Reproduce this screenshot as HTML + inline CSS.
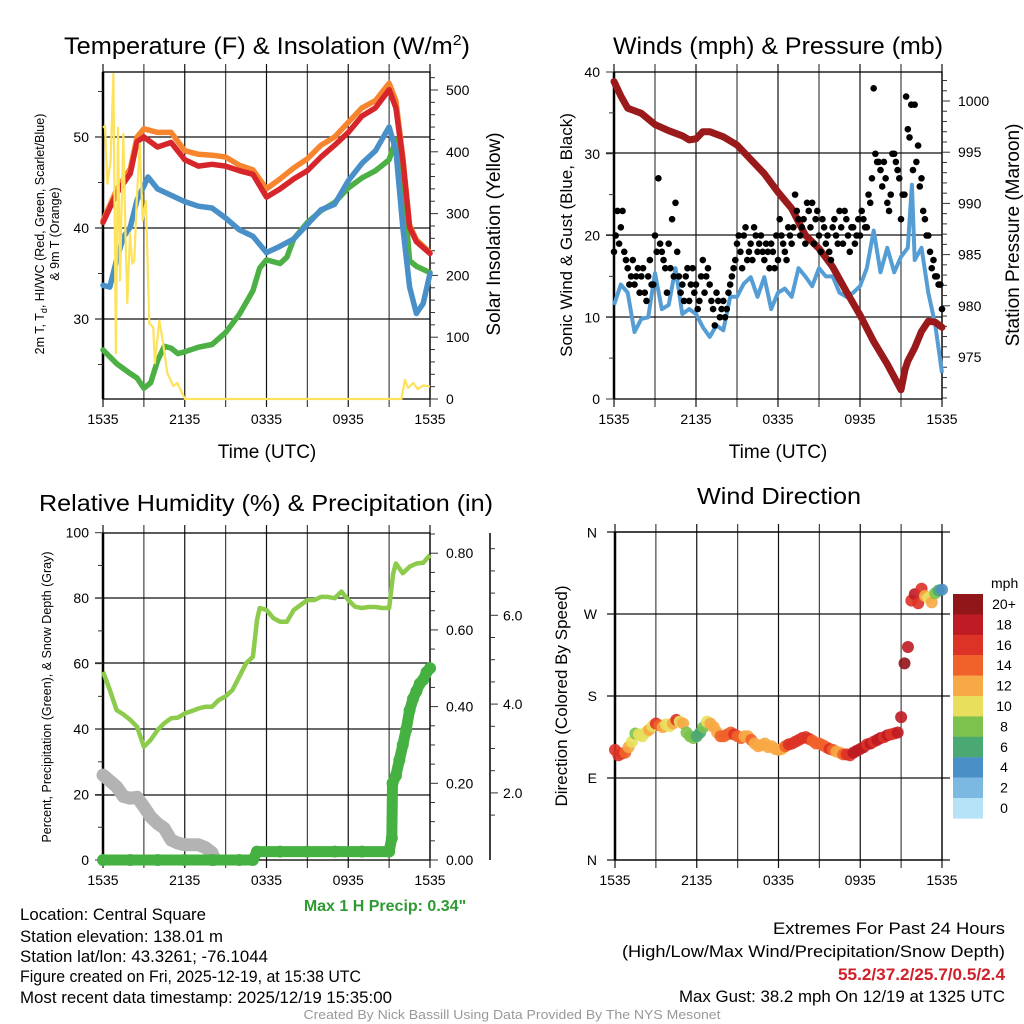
<!DOCTYPE html>
<html><head><meta charset="utf-8"><style>
html,body{margin:0;padding:0;background:#fff;}
svg{display:block;font-family:"Liberation Sans",sans-serif;}
</style></head><body>
<svg id="chart" width="1024" height="1024" viewBox="0 0 1024 1024" xmlns="http://www.w3.org/2000/svg">
<rect x="0" y="0" width="1024" height="1024" fill="#fff"/>
<!-- titles -->
<text x="267" y="54" font-size="24" text-anchor="middle" textLength="406" lengthAdjust="spacingAndGlyphs">Temperature (F) &amp; Insolation (W/m<tspan dy="-9" font-size="15">2</tspan><tspan dy="9">)</tspan></text>
<text x="778" y="54" font-size="24" text-anchor="middle" textLength="330" lengthAdjust="spacingAndGlyphs">Winds (mph) &amp; Pressure (mb)</text>
<text x="266" y="511" font-size="23" text-anchor="middle" textLength="454" lengthAdjust="spacingAndGlyphs">Relative Humidity (%) &amp; Precipitation (in)</text>
<text x="779" y="504" font-size="23" text-anchor="middle" textLength="164" lengthAdjust="spacingAndGlyphs">Wind Direction</text>
<!-- axis titles -->
<text x="267" y="458" font-size="19" text-anchor="middle">Time (UTC)</text>
<text x="778" y="458" font-size="19" text-anchor="middle">Time (UTC)</text>
<text transform="translate(44,234) rotate(-90)" font-size="12.5" text-anchor="middle">2m T, T<tspan dy="3" font-size="9">d</tspan><tspan dy="-3">, HI/WC (Red, Green, Scarlet/Blue)</tspan></text>
<text transform="translate(59,234) rotate(-90)" font-size="12.5" text-anchor="middle">&amp; 9m T (Orange)</text>
<text transform="translate(500,234) rotate(-90)" font-size="19" text-anchor="middle">Solar Insolation (Yellow)</text>
<text transform="translate(572,235) rotate(-90)" font-size="17" text-anchor="middle">Sonic Wind &amp; Gust (Blue, Black)</text>
<text transform="translate(1019,235) rotate(-90)" font-size="19" text-anchor="middle">Station Pressure (Maroon)</text>
<text transform="translate(51,697) rotate(-90)" font-size="12.5" text-anchor="middle">Percent, Precipitation (Green), &amp; Snow Depth (Gray)</text>
<text transform="translate(567,696) rotate(-90)" font-size="17" text-anchor="middle">Direction (Colored By Speed)</text>
<!-- footer -->
<text x="385" y="911" font-size="16" font-weight="bold" fill="#2f9a33" text-anchor="middle">Max 1 H Precip: 0.34"</text>
<g font-size="16.5" fill="#000">
<text x="20" y="920" textLength="186" lengthAdjust="spacingAndGlyphs">Location: Central Square</text>
<text x="20" y="942" textLength="203" lengthAdjust="spacingAndGlyphs">Station elevation: 138.01 m</text>
<text x="20" y="962" textLength="248" lengthAdjust="spacingAndGlyphs">Station lat/lon: 43.3261; -76.1044</text>
<text x="20" y="982" textLength="341" lengthAdjust="spacingAndGlyphs">Figure created on Fri, 2025-12-19, at 15:38 UTC</text>
<text x="20" y="1003" textLength="372" lengthAdjust="spacingAndGlyphs">Most recent data timestamp: 2025/12/19 15:35:00</text>
</g>
<g font-size="16.5" text-anchor="end">
<text x="1005" y="934" textLength="232" lengthAdjust="spacingAndGlyphs">Extremes For Past 24 Hours</text>
<text x="1005" y="957" textLength="383" lengthAdjust="spacingAndGlyphs">(High/Low/Max Wind/Precipitation/Snow Depth)</text>
<text x="1005" y="980" fill="#d0202a" font-weight="bold" textLength="167" lengthAdjust="spacingAndGlyphs">55.2/37.2/25.7/0.5/2.4</text>
<text x="1005" y="1002" textLength="326" lengthAdjust="spacingAndGlyphs">Max Gust: 38.2 mph On 12/19 at 1325 UTC</text>
</g>
<text x="512" y="1019" font-size="13" fill="#999" text-anchor="middle" textLength="417" lengthAdjust="spacingAndGlyphs">Created By Nick Bassill Using Data Provided By The NYS Mesonet</text>
</svg>
<script>
// ---------- Data ----------
const xTickLabels = ["1535","2135","0335","0935","1535"];
// Panel 1
const redT = [0,1,2,2.5,3,4,5,6,7,8,9,10,11,12,13,14,15,16,17,18,19,20,21,21.5,22,22.5,23,24];
const redV = [40.6,43.8,46,49.5,50,48.9,49.4,47.5,46.8,47,46.8,46.3,45.9,43.4,44.3,45.4,46.3,47.8,49.1,50.5,52.3,53.2,55.2,53.2,47.5,40.1,38.5,37.2];
const orangeV = [40.8,44.2,46.5,50,50.9,50.5,50.5,48.5,48.1,48,47.8,46.9,46.4,44.3,45.4,46.6,47.6,49.1,50,51.6,53.2,54,55.9,54,47.8,40.3,38.7,37.3];
const blueT = [0,0.5,1,1.5,2,2.5,3,3.3,4,5,6,7,8,9,10,11,12,13,14,15,16,17,18,19,20,21,21.5,22,22.5,23,23.5,24];
const blueV = [33.7,33.5,36.5,39,40.1,43.1,44.6,45.6,44.3,43.6,42.9,42.4,42.2,41.1,39.8,39.1,37.3,38,38.8,40.4,42,42.6,45.2,47.1,48.5,51.1,48.5,40.1,33.5,30.6,31.7,35];
const greenT = [0,1,2,2.5,3,3.5,4,4.5,5,5.5,6,7,8,9,10,11,11.5,12,13,13.5,14,15,16,17,18,19,20,21,21.5,22,22.5,23,24];
const greenV = [26.6,25.1,24,23.5,22.4,23,25.4,27,26.8,26.2,26.4,26.9,27.2,28.5,30.5,33.1,35.6,36.5,36.1,36.8,38.8,40.6,41.9,42.8,44.4,45.5,46.3,47.5,49.7,45.4,36.4,35.8,35.1];
const solarT = [0,0.15,0.32,0.56,0.76,0.95,1.1,1.25,1.49,1.64,1.78,1.98,2.15,2.3,2.47,2.71,2.91,3.15,3.4,3.69,3.8,4.13,4.38,4.72,5.16,5.45,6.02,21.9,22.16,22.4,22.77,23.1,23.5,24];
const solarV = [439,442,348,385,526,74,439,192,429,278,155,268,219,224,321,413,289,321,122,116,58,127,95,42,21,26,0,0,31,18,26,16,22,20];
// Panel 2
const presT = [0,0.5,1,2,3,4,5,5.5,6,6.5,7,8,9,10,11,12,13,14,15,16,17,18,19,20,21,21.3,21.5,22,22.5,23,23.5,24];
const presV = [1001.9,1000.5,999.3,998.8,997.7,997.1,996.6,996.2,996.3,997,997,996.5,995.7,994.3,992.9,991.1,989.5,986.9,985.6,983.8,981.4,979.1,976.5,974.3,971.8,973.8,974.6,975.9,977.5,978.5,978.4,977.9];
const windT = [0,0.5,1,1.5,2,2.5,3,3.5,4,4.5,5,5.5,6,6.5,7,7.5,8,8.5,9,9.5,10,10.5,11,11.5,12,12.5,13,13.5,14,14.5,15,15.5,16,16.5,17,17.5,18,18.5,19,19.5,20,20.5,21,21.5,21.8,22,22.5,23,23.5,24];
const windV = [11.5,14,13,8.2,9.8,10,15.4,11,11.5,16,10.4,11,10.4,8.8,7.6,9,8.4,12.5,12.5,14.1,14.9,12.5,14.9,11,13,13.5,12.5,16,15,13.8,16,15,15,13,12.5,13,13.8,16,20.6,15.5,18.5,15.5,17.4,18.5,26.2,17,18.5,13,9.1,3.2];
const gustA = [18,23,21,18,16,15,14,16,15,13,15,14,20,27,18,16,19,22,24,15,14,15,12,16,14,12,17,15,14,11,13,10,12,11,14,16,19,18,20,17,19,21,18,20,17,18,19,16,17,20,18,21,19,25,22,21,19,23,24,22,20,22,19,18,21,20,23,19,22,18,21,20,20,22,21,24,38,29,28,29,24,25,30,28,22,25,33,36,36,31,27,22,20,16,15,14,11];
const gustB = [20,19,23,17,14,17,15,13,16,12,17,14,18,19,17,13,16,15,18,13,12,16,14,13,11,15,13,16,12,9,12,11,10,13,15,17,20,16,21,18,17,20,19,18,19,16,18,20,22,19,17,20,21,23,20,22,24,21,19,23,18,21,20,17,22,19,21,23,20,21,19,22,23,21,25,27,30,29,26,27,23,30,29,27,25,37,32,28,29,26,23,20,18,17,15,14];
// Panel 3
const rhT = [0,0.5,1,1.5,2,2.5,3,3.5,4,4.5,5,5.5,6,6.5,7,7.5,8,8.5,9,9.5,10,10.5,11,11.3,11.5,12,12.5,13,13.5,14,14.5,15,15.5,16,16.5,17,17.5,18,18.5,19,19.5,20,20.5,21,21.3,21.5,22,22.5,23,23.5,24];
const rhV = [57.5,52,45.8,44.5,42.8,40.7,34.6,36.7,39.7,41.8,43.3,43.5,44.8,45.5,46.3,46.8,46.8,48.9,50,51.9,56,60.1,62.1,73.3,77,76.4,73.9,72.8,72.8,76.4,77.9,79.4,79.4,80.4,80.4,80,82,79.4,77.4,77,77.3,77.3,77,77,87.6,90.6,87.6,89.6,90.6,90.8,93.2];
const snowT = [0,1,1.5,2,2.5,3,3.5,4,4.5,5,5.5,6,7,7.5,8,8.2];
const snowV = [2.4,2.14,1.92,1.88,1.9,1.69,1.46,1.31,1.2,0.94,0.87,0.83,0.83,0.77,0.65,0.5];
const precipT = [0,2,4,6,8,10,11,11.3,13,15,17,19,21,21.2,21.25,21.5,21.75,22,22.25,22.5,22.75,23,23.25,23.5,23.75,24];
const precipV = [0,0,0,0,0,0,0,0.022,0.022,0.022,0.022,0.022,0.022,0.057,0.20,0.22,0.26,0.30,0.34,0.39,0.42,0.44,0.46,0.47,0.49,0.50];
// Panel 4
const dirV = [121,115,117,118,124,130,139,138,136,140,143,147,150,148,146,149,147,150,154,152,150,140,136,134,136,140,146,152,150,146,140,136,136,138,140,138,136,134,136,136,132,128,125,126,128,124,125,122,121,122,125,127,128,130,132,134,135,133,131,128,128,126,124,122,121,119,118,116,116,115,118,120,122,124,127,128,130,132,134,135,137,138,139,140,157,216,234,285,292,282,298,290,288,283,293,296,297];
const spdV = [16,17,16,14,12,10,9,10,10,11,12,11,16,15,12,10,11,13,17,11,12,8,9,8,7,6,9,10,12,12,13,14,14,15,14,16,15,15,13,12,14,13,12,13,12,12,13,12,13,12,15,16,17,17,16,16,17,16,15,14,14,15,14,16,15,13,12,15,17,17,18,19,18,19,17,18,17,18,19,16,18,17,17,18,18,20,18,16,18,16,17,13,10,12,8,6,4];
const speedBins = ["0","2","4","6","8","10","12","14","16","18","20+"];
const speedColors = ["#b6e3f7","#7bb9e3","#4a8fc6","#4aa873","#7cc24c","#e8e05c","#f7a945","#f1622a","#dd3226","#be1b24","#90161a"];

// ---------- Helpers ----------
const NS = "http://www.w3.org/2000/svg";
const svg = document.getElementById('chart');
function mk(tag, attrs, parent){
  const e = document.createElementNS(NS, tag);
  for (const k in attrs) e.setAttribute(k, attrs[k]);
  (parent || svg).appendChild(e);
  return e;
}
function pathD(ts, vs, fx, fy){
  return ts.map((t,i)=>(i?'L':'M')+fx(t).toFixed(1)+','+fy(vs[i]).toFixed(1)).join(' ');
}
function frame(p, name){
  const g = mk('g', {});
  
  
  const xs = h => p.x0 + h*(p.x1-p.x0)/24;
  for (let h=0; h<=24; h+=3){
    const ln = mk('line',{x1:xs(h),x2:xs(h),y1:p.y0-8,y2:p.y1+8,stroke:(h%6===0)?'#111':'#444','stroke-width':1.2}, g);
    
    
  }
  p.hGrid.forEach(y=>{
    const ln = mk('line',{x1:p.x0-8,x2:p.rightExt?p.x1+8:p.x1,y1:y,y2:y,stroke:'#111','stroke-width':1.2}, g);
    
    
  });
  const r = mk('rect',{x:p.x0,y:p.y0,width:p.x1-p.x0,height:p.y1-p.y0,fill:'none',stroke:'#000','stroke-width':1.3}, g);
  
  
  mk('line',{x1:p.x0,x2:p.x0,y1:p.y0,y2:p.y1,stroke:'#000','stroke-width':2.5}, g);
  xTickLabels.forEach((lab,i)=>{
    const t = mk('text',{x:xs(i*6),y:p.y1+25,'font-size':14,'text-anchor':'middle'}, g);
    
    
    t.textContent = lab;
  });
  return xs;
}
function yAxis(x, side, lo, hi, step, minor, fy, fmt, name, extraOff){
  const g = mk('g', {});
  
  
  const dir = side==='left' ? -1 : 1;
  for (let v=lo; v<=hi+1e-9; v+=minor){
    const isMaj = Math.abs(v/step - Math.round(v/step))<1e-6;
    const y = fy(v);
    mk('line',{x1:x,x2:x+dir*(isMaj?8:5),y1:y,y2:y,stroke:'#333','stroke-width':1}, g);
    if (isMaj && fmt){
      const t = mk('text',{x:x+dir*(extraOff||12),y:y+5,'font-size':14,'text-anchor':side==='left'?'end':'start'}, g);
      
      
      t.textContent = fmt(v);
    }
  }
}

// ---------- Panel 1 ----------
const P1 = {x0:103,x1:430,y0:72,y1:399,hGrid:[137,228,319]};
const x1s = frame(P1, 'temperature');
const yT = v => 228 - (v-40)*9.1;
const ySol = v => 399 - v*0.618;
yAxis(103,'left',25,55,10,5,yT,v=>String(v),'temperature-y-axis',14);
yAxis(430,'right',0,520,100,20,ySol,v=>String(v),'solar-y-axis',16);
const g1 = mk('g',{});


const lnG = mk('path',{d:pathD(greenT,greenV,x1s,yT),fill:'none',stroke:'#4cb045','stroke-width':5.5,'stroke-linejoin':'round','stroke-linecap':'round'},g1);


const lnB = mk('path',{d:pathD(blueT,blueV,x1s,yT),fill:'none',stroke:'#4a90c8','stroke-width':5.5,'stroke-linejoin':'round','stroke-linecap':'round'},g1);


const lnO = mk('path',{d:pathD(redT,orangeV,x1s,yT),fill:'none',stroke:'#f7852e','stroke-width':5.5,'stroke-linejoin':'round','stroke-linecap':'round'},g1);


const lnR = mk('path',{d:pathD(redT,redV,x1s,yT),fill:'none',stroke:'#d7262b','stroke-width':5.5,'stroke-linejoin':'round','stroke-linecap':'round'},g1);


const lnY = mk('path',{d:pathD(solarT,solarV,x1s,ySol),fill:'none',stroke:'#fde25c','stroke-width':2.2,'stroke-linejoin':'round'},g1);



// ---------- Panel 2 ----------
const P2 = {x0:614,x1:942,y0:72,y1:399,hGrid:[153,235,317]};
const x2s = frame(P2, 'winds');
const yW = v => 399 - v*8.175;
const yP = v => 101 + (1000-v)*10.24;
yAxis(614,'left',0,40,10,5,yW,v=>String(v),'wind-y-axis',14);
yAxis(942,'right',971,1002,5,1,yP,v=>String(v),'pressure-y-axis',16);
const g2 = mk('g',{});


const lnW = mk('path',{d:pathD(windT,windV,x2s,yW),fill:'none',stroke:'#559dd5','stroke-width':4,'stroke-linejoin':'round'},g2);


const lnP = mk('path',{d:pathD(presT,presV,x2s,yP),fill:'none',stroke:'#9a1a1c','stroke-width':7,'stroke-linejoin':'round','stroke-linecap':'round'},g2);


gustA.forEach((v,i)=>{
  const c = mk('circle',{cx:x2s(i*0.25),cy:yW(v),r:3.3,fill:'#000'},g2);
  
  
});
gustB.forEach((v,i)=>{
  const c = mk('circle',{cx:x2s(0.125+i*0.25),cy:yW(v),r:3.3,fill:'#000'},g2);
  
  
});

// ---------- Panel 3 ----------
const P3 = {x0:103,x1:430,y0:533,y1:860,hGrid:[598,663,729,795]};
const x3s = frame(P3, 'humidity');
const yRH = v => 860 - v*3.273;
const yPr = v => 860 - v*383.5;
const ySn = v => 881.7 - v*44.4;
yAxis(103,'left',0,100,20,10,yRH,v=>String(v),'rh-y-axis',14);
yAxis(430,'right',0,0.85,0.2,0.05,yPr,v=>v.toFixed(2),'precip-y-axis',16);
mk('line',{x1:490,x2:490,y1:533,y2:860,stroke:'#000','stroke-width':1.5});
yAxis(490,'right',1.5,7.5,2,0.5,ySn,v=>v.toFixed(1),'snow-depth-y-axis',13);
const g3 = mk('g',{});


const lnS = mk('path',{d:pathD(snowT,snowV,x3s,ySn),fill:'none',stroke:'#b3b3b3','stroke-width':13,'stroke-linejoin':'round','stroke-linecap':'round'},g3);


const lnRH = mk('path',{d:pathD(rhT,rhV,x3s,yRH),fill:'none',stroke:'#8dcb4c','stroke-width':4.5,'stroke-linejoin':'round'},g3);


const lnPr = mk('path',{d:pathD(precipT,precipV,x3s,yPr),fill:'none',stroke:'#45b141','stroke-width':11,'stroke-linejoin':'round','stroke-linecap':'round'},g3);


precipT.forEach((t,i)=>{
  const c = mk('circle',{cx:x3s(t),cy:yPr(precipV[i]),r:6,fill:'#45b141'},g3);
  
  
});

// ---------- Panel 4 ----------
const P4 = {x0:615,x1:942,y0:532,y1:860,hGrid:[532,614,696,778,860],rightExt:true};
const x4s = frame(P4, 'wind-direction');
const yD = d => 860 - d*0.9103;
["N","E","S","W","N"].forEach((lab,i)=>{
  const t = mk('text',{x:597,y:yD(i*90)+5,'font-size':14,'text-anchor':'end'});
  
  
  t.textContent = lab;
});
const g4 = mk('g',{});


dirV.forEach((d,i)=>{
  const bin = Math.min(10, Math.floor(spdV[i]/2));
  const c = mk('circle',{cx:x4s(i*0.25),cy:yD(d),r:6,fill:speedColors[bin],opacity:0.9},g4);
  
  
});
// colorbar
const cb = mk('g',{});


const cbt = mk('text',{x:991,y:588,'font-size':14},cb);
cbt.textContent = 'mph';
speedBins.forEach((lab,i)=>{
  const k = 10 - i;
  const y = 594 + i*20.4;
  const r = mk('rect',{x:953,y:y,width:30,height:20.6,fill:speedColors[k]},cb);
  
  
  const t = mk('text',{x:1004,y:y+15,'font-size':14,'text-anchor':'middle'},cb);
  
  
  t.textContent = speedBins[k];
});
</script>
</body></html>
